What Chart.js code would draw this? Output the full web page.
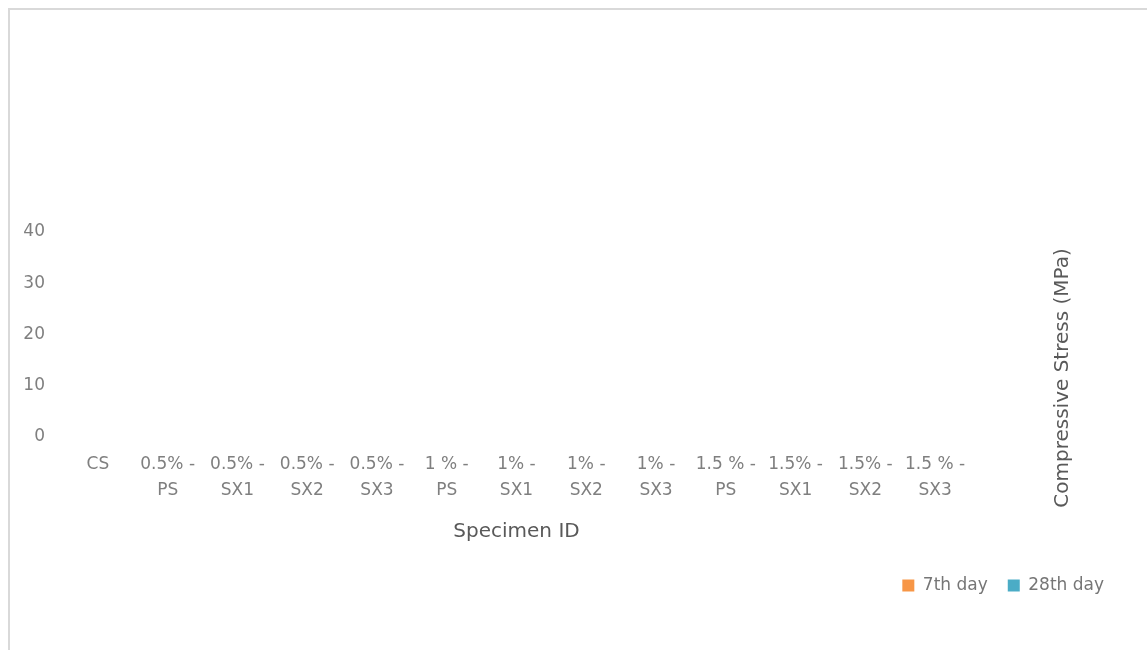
<!DOCTYPE html>
<html>
<head>
<meta charset="utf-8">
<script src="https://cdn.jsdelivr.net/npm/chart.js@4"></script>
<style>
    html, body { margin: 0; padding: 0; background: #fff; overflow: hidden; }
    #frame {
        position: absolute; left: 8px; top: 8px;
        width: 1200px; height: 700px;
        border: 2px solid #d9d9d9;
    }
    #box { width: 1137px; height: 640px; }
</style>
</head>
<body>
<div id="frame"><div id="box"><canvas id="stressChart"></canvas></div></div>
<script>
// Specimen groups on the x axis
const specimens = [
    'CS',
    ['0.5% -', 'PS'], ['0.5% -', 'SX1'], ['0.5% -', 'SX2'], ['0.5% -', 'SX3'],
    ['1 % -', 'PS'], ['1% -', 'SX1'], ['1% -', 'SX2'], ['1% -', 'SX3'],
    ['1.5 % -', 'PS'], ['1.5% -', 'SX1'], ['1.5% -', 'SX2'], ['1.5 % -', 'SX3']
];
// no bars are visible in the picture, so every value reads as zero
const day7 = [0, 0, 0, 0, 0, 0, 0, 0, 0, 0, 0, 0, 0];
const day28 = [0, 0, 0, 0, 0, 0, 0, 0, 0, 0, 0, 0, 0];
const yTicks = [0, 10, 20, 30, 40];

const FONT = '"DejaVu Sans", sans-serif';

// y title sits on the right and reads bottom-to-top
const rightTitle = {
    id: 'rightTitle',
    afterDraw(chart) {
        const { ctx, chartArea } = chart;
        ctx.save();
        ctx.translate(chartArea.right + 93, chartArea.bottom - 59);
        ctx.rotate(-Math.PI / 2);
        ctx.font = '20px ' + FONT;
        ctx.fillStyle = '#595959';
        ctx.textAlign = 'center';
        ctx.textBaseline = 'middle';
        ctx.fillText('Compressive Stress (MPa)', 0, 0);
        ctx.restore();
    }
};

new Chart(document.getElementById('stressChart'), {
    type: 'bar',
    data: {
        labels: specimens,
        datasets: [
            { label: '7th day', data: day7, backgroundColor: '#F79646' },
            { label: '28th day', data: day28, backgroundColor: '#4BACC6' }
        ]
    },
    options: {
        responsive: true,
        maintainAspectRatio: false,
        animation: false,
        layout: { padding: { top: 222, left: 0, right: 23, bottom: 46 } },
        plugins: {
            tooltip: { enabled: false },
            legend: {
                position: 'bottom',
                align: 'end',
                labels: {
                    boxWidth: 12, boxHeight: 12, padding: 20,
                    color: '#767676',
                    font: { family: FONT, size: 17 }
                }
            }
        },
        scales: {
            x: {
                grid: { display: false, drawTicks: false },
                border: { display: false },
                ticks: {
                    color: '#7f7f7f', padding: 15, maxRotation: 0, autoSkip: false,
                    font: { family: FONT, size: 17, lineHeight: 1.53 }
                },
                title: {
                    display: true, text: 'Specimen ID', color: '#595959',
                    font: { family: FONT, size: 20, lineHeight: 1.2 },
                    padding: { top: 0, bottom: 13 }
                },
                afterFit(scale) { scale.height = 120; }
            },
            y: {
                min: 0, max: 40,
                grid: { display: false, drawTicks: false },
                border: { display: false },
                afterBuildTicks(scale) { scale.ticks = yTicks.map(v => ({ value: v })); },
                ticks: {
                    color: '#7f7f7f', padding: 18,
                    font: { family: FONT, size: 17 }
                },
                afterFit(scale) { scale.width = 53; }
            },
            y2: {
                position: 'right',
                min: 0, max: 40,
                grid: { display: false },
                border: { display: false },
                ticks: { display: false },
                afterFit(scale) { scale.width = 154; }
            }
        }
    },
    plugins: [rightTitle]
});
</script>
</body>
</html>
